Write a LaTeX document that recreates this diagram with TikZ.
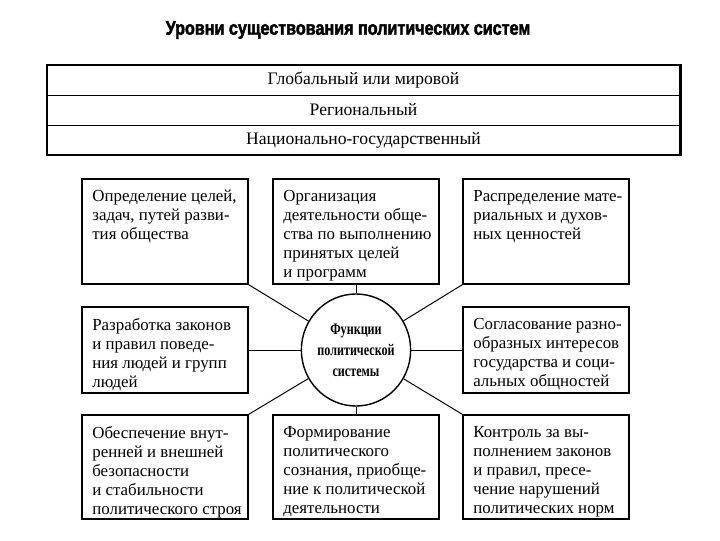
\documentclass[tikz,border=0pt]{standalone}
\usepackage{fontspec}
\setmainfont{Liberation Serif}
\newfontfamily\headfont[FakeStretch=0.82,FakeBold=2]{Liberation Sans}
\newfontfamily\corefont[FakeStretch=0.75]{Liberation Serif}
\usetikzlibrary{shapes.geometric}
\newcommand{\boxfont}{\fontsize{12}{13.6}\selectfont}

\begin{document}
\begin{tikzpicture}[x=0.025cm,y=-0.025cm,
  hd/.style={font=\headfont\bfseries\fontsize{14}{16}\selectfont,inner sep=0pt},
  lvl/.style={minimum width=15.825cm,minimum height=0.75cm,inner sep=0pt,
              font=\fontsize{12.5}{14}\selectfont},
  fb/.style={draw=black,line width=1pt,minimum width=4.15cm,inner sep=0pt},
  ft/.style={anchor=north west,align=left,inner sep=0pt,font=\boxfont,
             xshift=0.27cm,yshift=-0.29cm},
  core/.style={draw=black,line width=1pt,ellipse,minimum width=2.65cm,minimum height=2.8cm,
               inner sep=0pt,align=center,font=\corefont\bfseries\fontsize{11.5}{14.8}\selectfont},
  cn/.style={line width=0.7pt,black}]
\useasboundingbox (0,0) rectangle (720,540);
% ---------------- levels
\node[hd] (title) at (348,30) {Уровни существования политических систем};
\node[lvl] (r1) at (363.5,80) {Глобальный или мировой};
\node[lvl] (r2) at (363.5,110) {Региональный};
\node[lvl] (r3) at (363.5,140) {Национально-государственный};
\draw[line width=1.6pt] (r1.north west) rectangle (r3.south east);
\draw[line width=0.9pt] (r1.south west) -- (r1.south east);
\draw[line width=0.9pt] (r2.south west) -- (r2.south east);
% ---------------- functions
\node[core] (fc) at (356,350) {Функции\\политической\\системы};
\node[fb,minimum height=2.625cm] (f1) at (165,231.5) {};
\node[fb,minimum height=2.625cm] (f2) at (356,231.5) {};
\node[fb,minimum height=2.625cm] (f3) at (546,231.5) {};
\node[fb,minimum height=2.15cm] (f4) at (165,350) {};
\node[fb,minimum height=2.15cm] (f5) at (546,350) {};
\node[fb,minimum height=2.6cm] (f6) at (165,467) {};
\node[fb,minimum height=2.6cm] (f7) at (356,467) {};
\node[fb,minimum height=2.6cm] (f8) at (546,467) {};
\node[ft] (t1) at (f1.north west) {Определение целей,\\задач, путей разви-\\тия общества};
\node[ft] (t2) at (f2.north west) {Организация\\деятельности обще-\\ства по выполнению\\принятых целей\\и программ};
\node[ft] (t3) at (f3.north west) {Распределение мате-\\риальных и духов-\\ных ценностей};
\node[ft] (t4) at (f4.north west) {Разработка законов\\и правил поведе-\\ния людей и групп\\людей};
\node[ft] (t5) at (f5.north west) {Согласование разно-\\образных интересов\\государства и соци-\\альных общностей};
\node[ft] (t6) at (f6.north west) {Обеспечение внут-\\ренней и внешней\\безопасности\\и стабильности\\политического строя};
\node[ft] (t7) at (f7.north west) {Формирование\\политического\\сознания, приобще-\\ние к политической\\деятельности};
\node[ft] (t8) at (f8.north west) {Контроль за вы-\\полнением законов\\и правил, пресе-\\чение нарушений\\политических норм};
\foreach \a in {f1.south east,f2.south,f3.south west,f4.east,f5.west,
                f6.north east,f7.north,f8.north west}
  \draw[cn] (\a) -- (fc);
\end{tikzpicture}
\end{document}
